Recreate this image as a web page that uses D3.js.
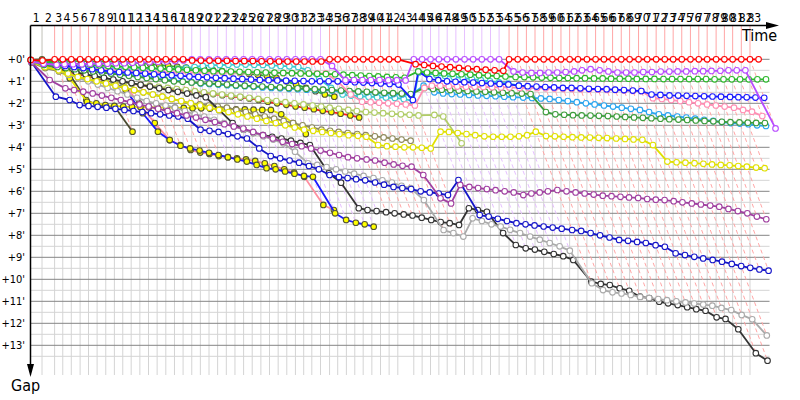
<!DOCTYPE html>
<html><head><meta charset="utf-8">
<script src="https://cdn.jsdelivr.net/npm/d3@7/dist/d3.min.js"></script>
<style>html,body{margin:0;padding:0;background:#fff;}svg{display:block;font-family:"DejaVu Sans Condensed","DejaVu Sans",Verdana,sans-serif;}</style>
</head><body>
<svg id="chart" width="800" height="400"></svg>
<script>
const lapLabels = d3.range(1, 84).map(String);
const leaderLapSec = [85,93,60,63,65,62,63.5,64,63.5,62,62,64,64,63.5,64,64,63.5,64,
 63.5,64,63.5,64,63.8,63.8,63.5,64,63.8,63.8,63.6,63.8,
 61,60,64,67,60,64,62,62,64,64,63.5,64,118,
 61.5,62,61.5,61.5,64,64,63.5,64,64,63.5,73.5,
 64,64,63.5,64,64,63.5,64,61.5,66,64,61.5,64,64,61.5,66,64,66,63.5,62,63.5,64,61.5,62,66,61,61,64,64,63.5];
const gapTicks = d3.range(0, 14);
const gapTickLabels = gapTicks.map(d => "+" + d + "'");

const gapRed = [0.03,0.06,0,0,0,0,0,0,0,0, 0,0,0,0,0,0,0,0,0.05,0.06, 0.06,0.07,0.07,0.08,0.08,0.08,0.09,0.09,0.1,0.1,
 0.1,0.1,0.1,0.1,0,0,0,0,0,0, 0,0,0,0.22,0.26,0.3,0.33,0.36,0.39,0.42, 0.45,0.47,0.5,0.52,0,0,0,0,0,0,
 0,0,0,0,0,0,0,0,0,0, 0,0,0,0,0,0,0,0,0,0, 0,0,0,0];
const gapMagenta = [0.1,0.2,0.25,0.22,0.22,0.22,0.2,0.2,0.2,0.18, 0.18,0.16,0.15,0.13,0.12,0.1,0.08,0.05,0,0, 0,0,0,0,0,0,0,0,0,0,
 0,0,0,0,0.3,0.95,0.94,0.94,0.94,0.94, 0.95,0.95,0.96,0,0,0,0,0,0,0, 0,0,0,0,0.55,0.6,0.62,0.62,0.6,0.6,
 0.58,0.55,0.5,0.45,0.5,0.55,0.6,0.6,0.6,0.58, 0.58,0.56,0.56,0.55,0.55,0.54,0.54,0.53,0.52,0.5, 0.5,0.5,3.14];
const gapGreen = [0.05,0.12,0.15,0.18,0.2,0.22,0.25,0.27,0.3,0.32, 0.34,0.36,0.38,0.4,0.42,0.44,0.46,0.48,0.5,0.52,
 0.54,0.55,0.56,0.57,0.58,0.59,0.6,0.61,0.62,0.63, 0.64,0.65,0.66,0.67,0.68,0.7,0.72,0.74,0.76,0.78,
 0.8,0.82,0.84,0.55,0.6,0.62,0.64,0.66,0.68,0.7, 0.72,0.74,0.76,0.78,0.8,0.81,0.82,0.83,0.84,0.85,
 0.85,0.86,0.86,0.87,0.87,0.88,0.88,0.88,0.89,0.89, 0.89,0.9,0.9,0.9,0.9,0.9,0.9,0.91,0.91,0.91, 0.91,0.91,0.91,0.91];
const gapBlue = [0.08,0.2,0.25,0.3,0.35,0.4,0.45,0.5,0.55,0.58, 0.6,0.62,0.65,0.68,0.7,0.72,0.75,0.78,0.8,0.82,
 0.84,0.86,0.88,0.9,0.92,0.94,0.95,0.96,0.97,0.98, 0.99,1.0,1.0,1.0,1.0,1.02,1.04,1.06,1.08,1.1,
 1.12,1.15,1.85,0.56,0.9,0.95,1.0,1.02,1.04,1.06, 1.08,1.1,1.12,1.14,1.2,1.22,1.24,1.26,1.28,1.3,
 1.3,1.32,1.34,1.35,1.36,1.38,1.4,1.42,1.44,1.6, 1.62,1.64,1.65,1.66,1.67,1.68,1.69,1.7,1.71,1.72, 1.73,1.74,1.75];
const gapPink = [0.1,0.2,0.25,0.3,0.35,0.4,0.42,0.45,0.48,0.5, 0.52,0.54,0.56,0.58,0.6,0.6,0.6,0.6,0.6,0.6,
 0.6,0.6,0.6,0.6,0.61,0.62,0.62,0.62,0.63,0.63, 0.63,0.64,0.64,0.64,1.0,1.6,1.93,1.95,1.97,2.0,
 2.02,2.05,2.1,1.3,1.2,1.2,1.22,1.24,1.25,1.25, 1.26,1.27,1.28,1.28,1.3,1.3,1.31,1.32,1.33,1.34,
 1.35,1.36,1.37,1.38,1.39,1.4,1.42,1.44,1.45,1.77, 1.8,1.85,1.9,1.95,2.0,2.05,2.1,2.15,2.2,2.3, 2.38,2.58];
const gapLightBlue = [0.1,0.25,0.3,0.35,0.4,0.45,0.5,0.55,0.6,0.65, 0.7,0.75,0.8,0.85,0.9,0.95,1.0,1.05,1.1,1.12,
 1.15,1.18,1.2,1.22,1.25,1.28,1.3,1.32,1.34,1.36, 1.38,1.4,1.4,1.42,1.44,1.46,1.48,1.5,1.52,1.55,
 1.58,1.6,1.62,1.2,1.5,1.55,1.58,1.6,1.62,1.64, 1.66,1.68,1.7,1.72,1.74,1.76,1.78,1.8,1.85,1.9,
 1.95,2.0,2.05,2.1,2.15,2.2,2.25,2.3,2.4,2.5, 2.55,2.6,2.65,2.7,2.75,2.8,2.85,2.9,2.92,2.95, 3.0,3.03];
const gapGreen2 = [0.1,0.25,0.35,0.4,0.45,0.5,0.55,0.6,0.65,0.7, 0.75,0.8,0.85,0.9,0.95,1.0,1.02,1.05,1.08,1.1,
 1.12,1.15,1.18,1.2,1.22,1.24,1.26,1.28,1.3,1.32, 1.34,1.36,1.38,1.4,1.42,1.44,1.46,1.48,1.5,1.52,
 1.54,1.56,1.58,1.3,1.35,1.38,1.4,1.42,1.44,1.46, 1.48,1.5,1.52,1.54,1.56,1.58,2.4,2.5,2.52,2.54,
 2.55,2.56,2.57,2.58,2.6,2.62,2.64,2.66,2.68,2.7, 2.72,2.74,2.76,2.78,2.8,2.82,2.84,2.86,2.87,2.88, 2.89,2.9];
const gapTeal = [0.08,0.2,0.25,0.28,0.3,0.32,0.34,0.36,0.38,0.4, 0.42,0.43,0.44,0.45,0.45,0.44,0.42,0.4,0.35,0.3,
 0.28,0.26,0.25,0.24,0.24,0.25,0.26,0.28,0.3,0.32, 0.35,0.5,0.9,1.3,1.6,1.65,1.68,1.7,1.72,1.74,
 1.76,1.8,1.9,0.6,0.65,0.7,0.75,0.8,0.85,0.9, 0.95,1.0,1.05,1.1,1.2,1.25];
const gapYellow = [0.12,0.35,0.5,0.65,0.8,0.9,1.0,1.1,1.2,1.3, 1.4,1.5,1.6,1.7,1.8,1.9,2.0,2.1,2.2,2.3,
 2.4,2.5,2.6,2.7,2.8,2.9,3.0,3.1,3.2,3.25, 3.3,3.35,3.4,3.45,3.48,3.52,3.9,3.95,3.97,4.0,
 4.0,4.02,4.05,3.29,3.3,3.35,3.4,3.45,3.5,3.52, 3.52,3.52,3.5,3.45,3.29,3.49,3.5,3.52,3.54,3.55,
 3.56,3.57,3.58,3.6,3.62,3.64,3.66,3.9,4.65,4.68, 4.7,4.72,4.75,4.78,4.8,4.82,4.85,4.88,4.92,4.95];
const gapPurple = [0.15,0.94,1.32,1.4,1.47,1.55,1.65,1.75,1.85,1.95, 2.05,2.15,2.25,2.35,2.45,2.55,2.65,2.75,2.85,2.95,
 3.05,3.15,3.3,3.45,3.6,3.75,3.85,3.95,4.05,4.15, 4.25,4.35,4.45,4.5,4.55,4.6,4.7,4.78,4.84,4.88,
 5.26,6.32,6.55,5.71,5.8,5.85,5.9,5.95,6.0,6.05, 6.17,6.1,6.05,6.0,5.94,6.0,6.05,6.1,6.15,6.2,
 6.22,6.25,6.28,6.3,6.35,6.38,6.4,6.45,6.5,6.55, 6.6,6.65,6.7,6.8,6.9,7.0,7.15,7.27];
const gapBlue2 = [0.15,1.7,1.85,2.08,2.12,2.16,2.2,2.25,2.3,2.35, 2.4,2.45,2.5,2.55,2.6,2.7,3.2,3.25,3.3,3.4,
 3.5,3.6,4.05,4.4,4.5,4.6,4.7,4.85,5.0,5.26, 5.35,5.4,5.45,5.5,5.6,5.7,5.8,5.85,5.9,6.0,
 6.05,6.1,6.17,5.49,7.08,7.15,7.25,7.35,7.45,7.5, 7.55,7.6,7.65,7.7,7.76,7.8,7.9,8.0,8.1,8.21,
 8.25,8.3,8.35,8.45,8.52,8.82,8.9,8.98,9.05,9.12, 9.2,9.3,9.4,9.48,9.55,9.61];
const gapGray = [0.1,0.3,0.5,0.7,0.85,1.0,1.15,1.3,1.45,1.6, 1.75,1.9,2.0,2.1,2.2,2.35,2.5,2.6,2.75,2.9,
 3.05,3.2,3.35,3.5,3.65,3.82,4.2,4.73,4.8,4.9, 5.0,5.1,5.2,5.3,5.4,5.5,5.6,5.75,5.86,6.4,
 7.76,7.9,8.06,7.23,7.35,7.5,7.6,7.75,7.9,8.06, 8.2,8.35,8.5,8.7,10.18,10.49,10.59,10.64,10.71,10.8,
 10.85,10.9,10.95,11.0,11.05,11.1,11.15,11.2,11.3,11.4, 11.62,11.82,12.55];
const gapBlack = [0.1,0.3,0.42,0.52,0.6,0.68,0.76,0.84,0.92,1.0, 1.08,1.16,1.24,1.32,1.4,1.48,1.56,1.64,1.72,2.3,
 2.9,3.2,3.35,3.45,3.52,3.6,3.7,3.8,3.9,5.18, 5.61,6.77,6.85,6.9,6.95,7.0,7.05,7.1,7.2,7.3,
 7.4,7.45,7.53,6.77,6.85,6.93,7.9,8.44,8.59,8.65, 8.75,8.85,8.95,9.12,10.11,10.21,10.26,10.41,10.52,10.79,
 10.86,11.02,11.09,11.17,11.27,11.36,11.43,11.73,11.8,12.27, 13.36,13.7];
const gapOlive = [0.15,0.4,0.55,0.7,0.8,0.9,1.0,1.1,1.2,1.3, 1.4,1.5,1.6,1.7,1.8,1.9,2.0,2.05,2.1,2.15,
 2.2,2.3,2.4,2.5,2.6,2.7,2.8,2.9,3.0,3.1, 3.2,3.25,3.3,3.35,3.4,3.45,3.5,3.55,3.6,3.65, 3.7];
const gapYellowGreen = [0.12,0.3,0.4,0.5,0.6,0.7,0.8,0.9,1.0,1.05, 1.1,1.15,1.2,1.25,1.3,1.35,1.4,1.45,1.5,1.55,
 1.6,1.65,1.7,1.75,1.8,1.85,1.9,1.95,2.0,2.05, 2.1,2.15,2.2,2.25,2.3,2.35,2.4,2.42,2.45,2.48,
 2.5,2.52,2.55,2.53,2.6,3.82];
const gapRedY = [0.1,0.3,0.45,0.55,0.65,0.75,0.85,0.95,1.0,1.05, 1.1,1.17,1.22,1.27,1.33,1.38,1.43,1.48,1.53,1.58,
 1.63,1.68,1.73,1.78,1.85,1.93,2.0,2.07,2.14,2.2, 2.27,2.34,2.4,2.47,2.55,2.64];
const gapGreenY = [0.05,0.05,0.06,0.07,0.08,0.08,0.09,0.1,0.1,0.11, 0.12,0.14,0.18,0.22,0.26,0.3,0.34,0.38,0.42,0.46,
 0.5,0.54,0.58,0.62,0.66,0.7,0.76,0.86,1.0,1.15, 1.3,1.45,1.6,1.7];
const gapDarkY = [0.02,0,0.15,0.49,1.85,2.08,2.13,2.15,3.29];
const gapYellowY = [0.1,0.3,0.5,0.86,1.93,2.0,2.08,2.12,2.15,2.16, 2.17,2.18,2.19,2.2,2.2,2.21,2.22,2.23,2.24,2.25,
 2.26,2.27,2.28,2.29,2.3,2.3,2.5,2.9,3.4];
const gapPinkY = [0.1,0.3,0.45,0.55,0.65,0.75,0.85,0.95,1.02,1.09, 2.0,2.9,3.67,3.9,4.12,4.24,4.3,4.4,4.45,4.5,
 4.55,4.62,4.73,4.85,5.0,5.15,5.34,6.62,6.85];
const gapBlueY = [0.1,0.3,0.45,0.55,0.65,0.75,0.85,0.95,1.05,1.4, 2.45,3.29,3.67,3.93,4.05,4.15,4.25,4.35,4.45,4.55,
 4.65,4.8,4.95,5.0,5.1,5.2,5.3,5.34,7.0,7.3, 7.43,7.5,7.61];

const cars = [
  {gaps: gapRed, stroke: "#ff0000", fill: "#ffffff"},
  {gaps: gapMagenta, stroke: "#b84cff", fill: "#ffffff"},
  {gaps: gapGreen, stroke: "#2db82d", fill: "#ffffff"},
  {gaps: gapBlue, stroke: "#1a1aff", fill: "#ffffff"},
  {gaps: gapPink, stroke: "#ff8fb4", fill: "#ffffff"},
  {gaps: gapGreen2, stroke: "#3c9c3c", fill: "#ffffff"},
  {gaps: gapLightBlue, stroke: "#2aa5f0", fill: "#ffffff"},
  {gaps: gapTeal, stroke: "#3cc8d0", fill: "#ffffff"},
  {gaps: gapYellow, stroke: "#e0e000", fill: "#ffffff"},
  {gaps: gapPurple, stroke: "#a040a0", fill: "#ffffff"},
  {gaps: gapBlue2, stroke: "#1515c8", fill: "#ffffff"},
  {gaps: gapGray, stroke: "#aaaaaa", fill: "#ffffff"},
  {gaps: gapBlack, stroke: "#333333", fill: "#ffffff"},
  {gaps: gapYellowGreen, stroke: "#b0cc66", fill: "#ffffff"},
  {gaps: gapOlive, stroke: "#8f8a5c", fill: "#ffffff"},
  {gaps: gapRedY, stroke: "#ff1a1a", fill: "#ffff00"},
  {gaps: gapGreenY, stroke: "#2db82d", fill: "#ffff00"},
  {gaps: gapYellowY, stroke: "#e8e800", fill: "#ffff00"},
  {gaps: gapBlueY, stroke: "#1a1aff", fill: "#ffff00"},
  {gaps: gapPinkY, stroke: "#ff8fa0", fill: "#ffff00"},
  {gaps: gapDarkY, stroke: "#4a4a30", fill: "#ffff00"}
];

const svg = d3.select("#chart");
const T = [0];
leaderLapSec.forEach((s, i) => T.push(T[i] + s / 60));
const nLaps = leaderLapSec.length;

const x = d3.scaleLinear().domain([0, 92]).range([30.5, 778.5]);
const y = d3.scaleLinear().domain([0, 14.35]).range([59.3, 375]);
const axisY = 25.5;

// grid
const grid = svg.append("g");
const gridRight = x(90.9);
grid.selectAll("line.v").data(d3.range(1, nLaps)).join("line")
  .attr("x1", k => x(T[k])).attr("x2", k => x(T[k]))
  .attr("y1", y(0)).attr("y2", y(14.35))
  .attr("stroke", "#d4d4d4").attr("stroke-width", 1);
grid.selectAll("line.minor").data(gapTicks.map(d => d + 0.5)).join("line")
  .attr("x1", x(0)).attr("x2", gridRight)
  .attr("y1", d => y(d)).attr("y2", d => y(d))
  .attr("stroke", "#d4d4d4").attr("stroke-width", 1);
grid.selectAll("line.major").data(gapTicks).join("line")
  .attr("x1", x(0)).attr("x2", gridRight)
  .attr("y1", d => y(d)).attr("y2", d => y(d))
  .attr("stroke", "#858585").attr("stroke-width", 1);

// lap lines
const lapInfo = d3.range(1, nLaps).map(k => {
  let best = null, maxG = 0;
  cars.forEach(c => {
    if (c.gaps.length > k) {
      const g = c.gaps[k];
      if (best === null || g < best.g) best = {g, c};
      if (g > maxG) maxG = g;
    }
  });
  return {k, color: d3.interpolateRgb(best.c.stroke, "#ffffff")(0.65), maxG};
});
const lapG = svg.append("g");
lapG.selectAll("line.lv").data(lapInfo).join("line")
  .attr("x1", d => x(T[d.k])).attr("x2", d => x(T[d.k]))
  .attr("y1", axisY).attr("y2", y(0))
  .attr("stroke", d => d.color).attr("stroke-width", 1);
lapG.selectAll("line.ld").data(lapInfo).join("line")
  .attr("x1", d => x(T[d.k])).attr("y1", y(0))
  .attr("x2", d => x(T[d.k] + d.maxG)).attr("y2", d => y(d.maxG))
  .attr("stroke", d => d.color).attr("stroke-width", 1)
  .attr("stroke-dasharray", "4,3");

// series
const line = d3.line().x(d => x(d.t)).y(d => y(d.g));
const carsDraw = cars.slice().reverse();
carsDraw.forEach(c => {
  const pts = c.gaps.map((g, k) => ({t: T[k] + g, g}));
  const gg = svg.append("g");
  gg.append("path").datum(pts).attr("d", line)
    .attr("fill", "none").attr("stroke", c.stroke).attr("stroke-width", 1.8)
    .attr("stroke-linejoin", "round");
  gg.selectAll("circle").data(pts).join("circle")
    .attr("cx", d => x(d.t)).attr("cy", d => y(d.g)).attr("r", 2.8)
    .attr("fill", c.fill)
    .attr("stroke", c.fill === "#ffffff" ? c.stroke : "#555533")
    .attr("stroke-width", 1.1);
});

// axes
const ax = svg.append("g");
ax.append("line").attr("x1", x(0)).attr("x2", 770).attr("y1", axisY).attr("y2", axisY)
  .attr("stroke", "#000").attr("stroke-width", 1.5);
ax.append("path").attr("d", `M766,${axisY-3.5}L779,${axisY}L766,${axisY+3.5}Z`).attr("fill", "#000");
ax.append("line").attr("x1", x(0)).attr("x2", x(0)).attr("y1", axisY).attr("y2", 368)
  .attr("stroke", "#000").attr("stroke-width", 1.5);
ax.append("path").attr("d", `M${x(0)-3.5},364L${x(0)},377L${x(0)+3.5},364Z`).attr("fill", "#000");

svg.append("g").selectAll("text").data(lapLabels).join("text")
  .attr("x", (d, i) => x((T[i] + T[i + 1]) / 2)).attr("y", 21.5)
  .attr("text-anchor", "middle").attr("font-size", 12).attr("fill", "#000")
  .text(d => d);
svg.append("g").selectAll("text").data(gapTicks).join("text")
  .attr("x", 25).attr("y", d => y(d) + 4)
  .attr("text-anchor", "end").attr("font-size", 11).attr("fill", "#000")
  .text((d, i) => gapTickLabels[i]);
svg.append("text").attr("x", 742).attr("y", 41).attr("font-size", 16).text("Time");
svg.append("text").attr("x", 11).attr("y", 391).attr("font-size", 16).text("Gap");
</script>
</body></html>
